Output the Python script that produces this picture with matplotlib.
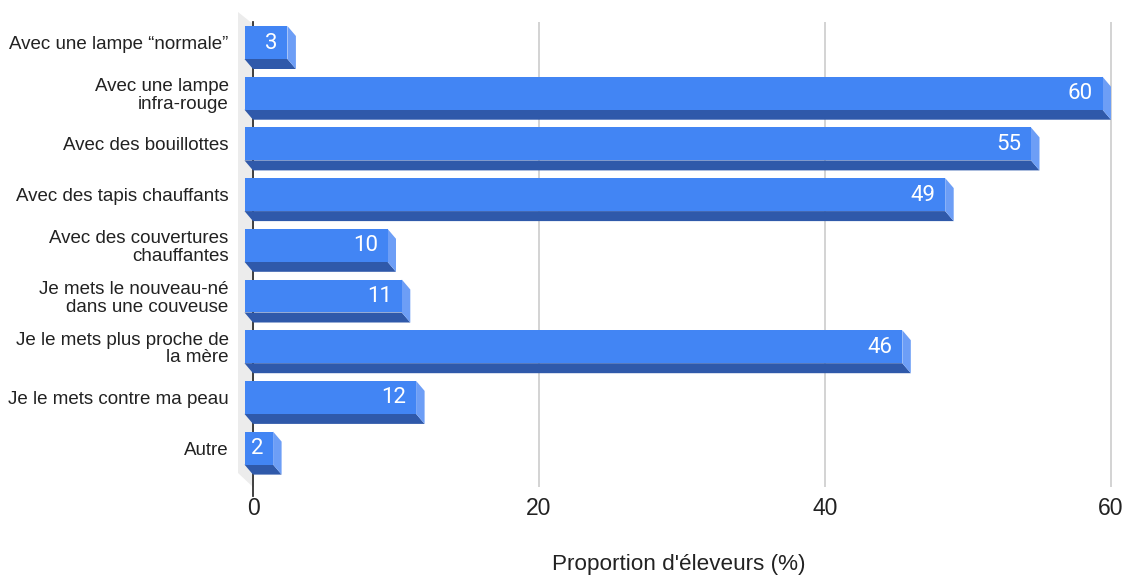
import matplotlib
matplotlib.use("Agg")
import matplotlib.pyplot as plt
from matplotlib.patches import Polygon

# données
categories = ["Avec une lampe “normale”", "Avec une lampe\ninfra-rouge",
              "Avec des bouillottes", "Avec des tapis chauffants",
              "Avec des couvertures\nchauffantes", "Je mets le nouveau-né\ndans une couveuse",
              "Je le mets plus proche de\nla mère", "Je le mets contre ma peau", "Autre"]
valeurs = [3, 60, 55, 49, 10, 11, 46, 12, 2]
ticks = [0, 20, 40, 60]

# échelle en pixels (pour la profondeur 3D)
PX = 14.3      # pixels par unité en x
ROW = 50.7     # pixels par rangée
Y0 = 42.5      # centre de la première rangée (px)

def py(p):
    return (p - Y0) / ROW

dx = 8.5 / PX
dy = 10 / ROW
h = 16.5 / ROW

FRONT = "#4285f4"
SIDE = "#6d9ef6"
BOTTOM = "#2f59aa"

fig = plt.figure(figsize=(11.27, 5.77), dpi=100)
ax = fig.add_axes([230 / 1127, 1 - 487 / 577, 897 / 1127, 465 / 577])
ax.set_xlim((230 - 253) / PX, (1127 - 253) / PX)
ax.set_ylim(py(487), py(22))

# mur gauche
wall = Polygon([(-15 / PX, py(12)), (0, py(24)), (0, py(487)), (-15 / PX, py(473))],
               closed=True, facecolor="#ececec", edgecolor="none", zorder=1, clip_on=False)
ax.add_patch(wall)
ax.plot([0, 0], [py(22), py(496)], color="#333333", lw=1.3, zorder=2, clip_on=False)

for i, v in enumerate(valeurs):
    x0 = -dx
    x1 = v - dx
    yt = i - h
    yb = i + h
    ax.add_patch(Polygon([(x0, yb), (x1, yb), (x1 + dx, yb + dy), (x0 + dx, yb + dy)],
                         facecolor=BOTTOM, edgecolor="none", zorder=3, clip_on=False))
    ax.add_patch(Polygon([(x1, yt), (x1 + dx, yt + dy), (x1 + dx, yb + dy), (x1, yb)],
                         facecolor=SIDE, edgecolor="none", zorder=3, clip_on=False))
    ax.add_patch(Polygon([(x0, yt), (x1, yt), (x1, yb), (x0, yb)],
                         facecolor=FRONT, edgecolor="none", zorder=4, clip_on=False))
    ax.text(x1 - 9.5 / PX, i + 0.01, str(v), ha="right", va="center", color="white",
            fontsize=16, family="Roboto", zorder=5)

ax.set_xticks(ticks)
ax.set_xticklabels([str(t) for t in ticks], fontsize=16.5, family="Liberation Sans", color="#222222")
ax.set_yticks(range(len(categories)))
ax.set_yticklabels(categories, fontsize=13.5, family="Liberation Sans", color="#222222",
                   linespacing=1.05)
ax.tick_params(axis="both", length=0)
ax.tick_params(axis="x", pad=7)
ax.tick_params(axis="y", pad=1)
ax.grid(axis="x", color="#cccccc", lw=1.2, zorder=0)
ax.set_axisbelow(True)
for s in ax.spines.values():
    s.set_visible(False)

ax.set_xlabel("Proportion d'éleveurs (%)", fontsize=16.2, family="Liberation Sans",
              color="#222222", labelpad=25)

fig.savefig("out.png", dpi=100)
